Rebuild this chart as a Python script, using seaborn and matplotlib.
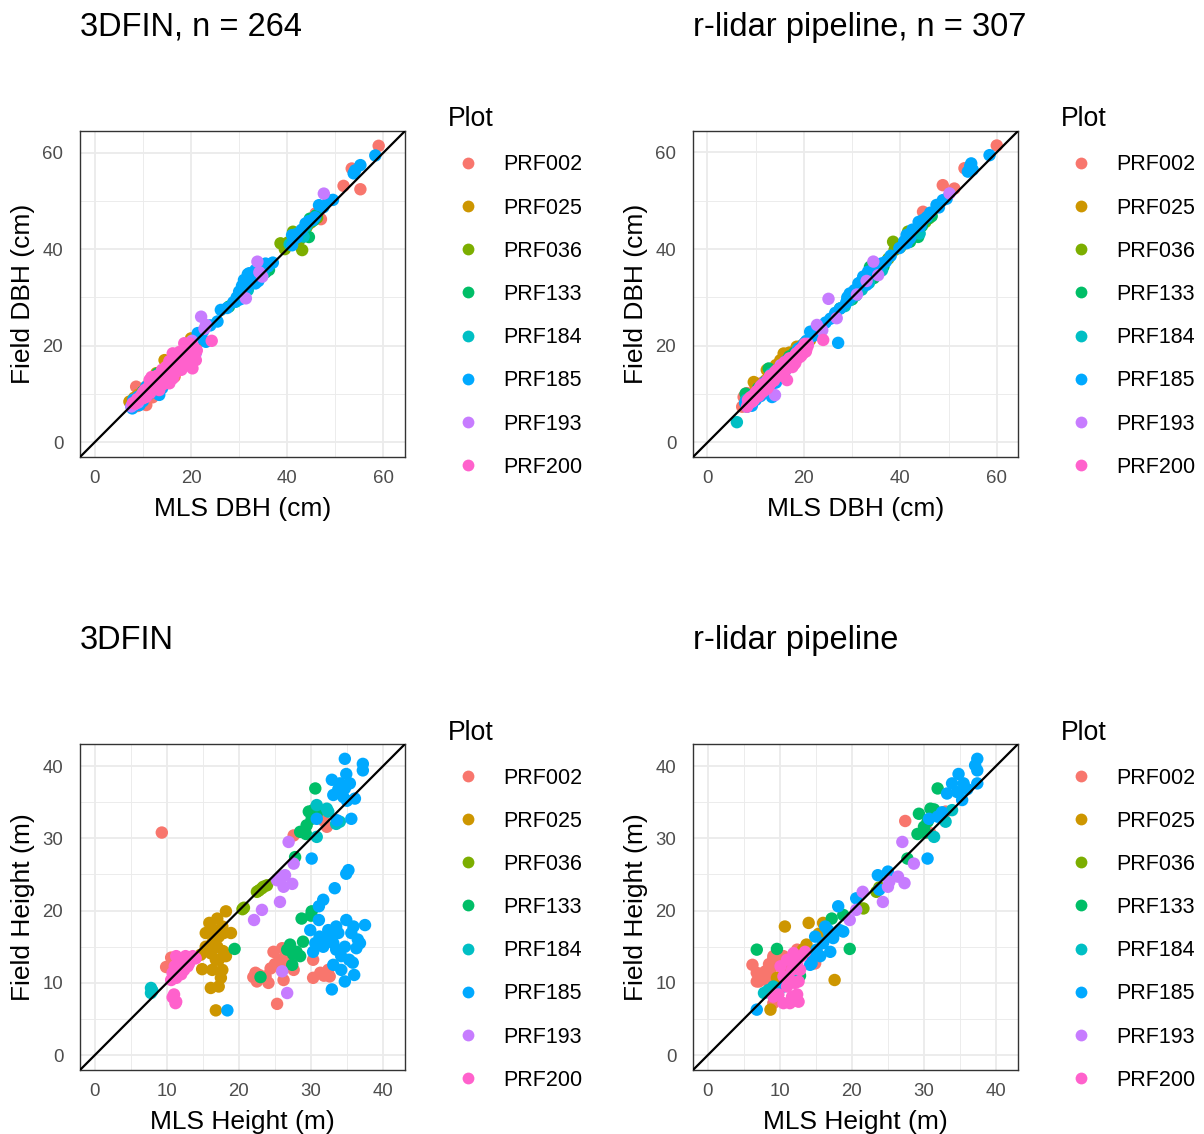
import matplotlib
matplotlib.use("Agg")
import matplotlib.pyplot as plt
from matplotlib.lines import Line2D
from matplotlib.ticker import MultipleLocator
import pandas as pd
import seaborn as sns

PLOTS = ["PRF002", "PRF025", "PRF036", "PRF133", "PRF184", "PRF185", "PRF193", "PRF200"]
COLORS = ["#F8766D", "#CD9600", "#7CAE00", "#00BE67", "#00BFC4", "#00A9FF", "#C77CFF", "#FF61CC"]

# ---------------- DBH, 3DFIN (MLS DBH, Field DBH) ----------------
DBH_3DFIN_PRF002 = [(59.0, 61.4), (53.4, 56.7), (51.7, 53.1), (55.2, 52.4), (45.9, 47.4), (47.0, 46.2), (44.6, 45.3),
                    (8.6, 11.5), (10.7, 7.7), (8.9, 7.5), (10.0, 9.4), (12.8, 12.2), (16.6, 13.6), (9.5, 8.6), (11.8, 10.8),
                    (14.2, 12.6), (7.8, 8.0), (13.0, 11.0), (18.0, 17.2), (15.4, 14.6), (12.0, 9.3), (11.2, 12.0), (9.8, 10.6),
                    (13.6, 13.9), (17.2, 15.8)]
DBH_3DFIN_PRF025 = [(7.2, 8.4), (14.5, 17.0), (12.8, 14.3), (20.0, 21.5), (10.7, 11.5), (16.2, 15.7), (18.6, 18.4), (9.0, 9.8),
                    (11.5, 12.8), (13.6, 13.5), (15.0, 15.9), (17.2, 17.6), (8.2, 9.2), (19.2, 19.5), (12.2, 13.2), (10.2, 10.1),
                    (16.8, 16.9), (14.0, 14.8), (21.2, 20.6), (13.2, 12.4)]
DBH_3DFIN_PRF036 = [(38.6, 41.2), (41.2, 43.6), (43.1, 39.8), (41.5, 42.2), (44.0, 44.5), (42.6, 42.0), (40.2, 41.4), (45.0, 45.6),
                    (39.5, 40.0), (43.6, 43.0), (46.2, 46.5), (42.0, 43.0)]
DBH_3DFIN_PRF133 = [(27.9, 28.1), (44.5, 42.5), (44.7, 46.3), (36.2, 35.7), (31.0, 32.2), (34.8, 36.3), (12.1, 12.9), (10.0, 10.5),
                    (45.5, 46.0), (29.5, 29.5), (32.5, 33.0), (15.5, 15.2), (8.8, 8.6), (33.6, 34.0), (30.5, 30.8), (14.0, 13.5),
                    (11.2, 11.8), (18.5, 18.9), (16.8, 17.5), (20.2, 20.0), (9.5, 9.0), (13.0, 14.2), (35.5, 35.2), (46.0, 47.0),
                    (22.0, 22.5)]
DBH_3DFIN_PRF184 = [(29.3, 29.1), (43.4, 42.6), (45.2, 46.0), (11.4, 10.1), (42.0, 43.2), (30.8, 30.6), (33.0, 33.7), (9.2, 9.0),
                    (13.2, 13.0), (40.5, 41.0), (35.0, 34.8), (31.8, 31.5), (12.4, 11.5), (10.3, 9.6), (8.0, 7.9), (14.8, 14.2),
                    (16.0, 16.3), (44.0, 44.8), (32.2, 32.6), (34.2, 35.0)]
DBH_3DFIN_PRF185 = [(58.3, 59.4), (54.1, 56.3), (55.2, 57.4), (53.8, 55.7), (48.6, 50.1), (46.6, 49.1), (45.2, 46.0), (43.8, 45.3),
                    (41.0, 42.9), (41.0, 40.8), (35.5, 37.0), (33.4, 35.7), (32.1, 35.0), (31.0, 33.6), (30.0, 31.2), (33.4, 32.9),
                    (26.2, 27.4), (21.4, 22.6), (23.1, 20.8), (13.4, 9.8), (9.3, 7.7), (7.6, 7.4), (10.7, 11.5), (32.8, 34.3),
                    (34.5, 34.7), (36.0, 36.4), (31.5, 32.0), (47.5, 48.7), (44.5, 45.8), (12.0, 11.2), (14.5, 13.6), (8.5, 8.2),
                    (11.0, 9.8), (16.0, 15.5), (18.5, 18.2), (20.5, 20.8), (22.5, 23.0), (29.5, 30.0), (31.8, 34.8), (32.5, 33.6),
                    (30.6, 32.4), (35.0, 36.0), (45.8, 46.6), (42.0, 42.4), (27.5, 27.8), (9.0, 9.4), (10.0, 8.5), (12.8, 12.0),
                    (15.2, 14.4), (17.0, 16.2), (19.5, 19.0), (13.8, 13.0), (11.6, 10.6), (8.0, 8.8), (7.8, 7.0), (14.0, 11.2),
                    (16.5, 17.0), (20.0, 19.8), (24.0, 24.2), (25.5, 25.0), (28.8, 29.0), (34.0, 33.4), (37.0, 37.2), (43.0, 44.0),
                    (49.5, 50.2), (12.5, 10.5), (10.4, 10.0), (18.0, 17.4), (21.8, 21.5), (30.2, 29.6)]
DBH_3DFIN_PRF193 = [(47.6, 51.5), (33.8, 37.4), (34.8, 34.3), (31.4, 29.8), (22.1, 26.0), (23.1, 24.3), (21.0, 18.4), (7.6, 7.4),
                    (12.5, 12.5), (10.0, 9.8), (16.5, 16.0), (19.0, 19.5), (8.2, 7.8), (34.2, 35.2), (14.0, 14.3), (11.2, 10.5),
                    (17.8, 18.0), (9.0, 8.2), (20.2, 21.0), (13.2, 12.0), (15.8, 15.2), (22.8, 23.5)]
DBH_3DFIN_PRF200 = [(19.7, 20.5), (19.0, 18.4), (17.6, 16.3), (19.7, 16.0), (16.2, 18.4), (14.8, 15.6), (16.6, 14.3), (15.5, 12.2),
                    (12.8, 12.9), (11.4, 12.9), (13.4, 10.8), (10.7, 9.4), (9.3, 8.8), (7.9, 8.1), (18.6, 20.5), (17.6, 18.7),
                    (14.5, 13.9), (21.0, 17.0), (20.3, 15.3), (18.0, 15.0), (15.0, 14.8), (13.0, 13.8), (12.0, 11.5), (11.0, 11.2),
                    (17.0, 17.5), (18.5, 17.8), (16.0, 16.5), (14.0, 15.0), (13.8, 12.5), (12.5, 11.0), (10.0, 10.3), (20.5, 19.8),
                    (19.3, 19.0), (16.8, 15.5), (15.5, 16.8), (14.2, 12.0), (9.8, 9.0), (8.8, 8.9), (11.8, 13.5), (24.3, 21.0),
                    (19.0, 17.0), (18.2, 16.4), (17.0, 14.8), (16.2, 13.2), (15.0, 13.4), (13.6, 11.6), (12.4, 12.0), (11.5, 10.2),
                    (10.4, 10.8), (9.6, 9.6), (8.4, 8.0), (20.0, 18.2), (19.5, 20.0), (18.8, 19.2), (17.4, 17.2), (16.4, 15.8),
                    (15.8, 14.2), (14.6, 14.8), (13.2, 13.0), (12.2, 12.6), (11.0, 10.0), (10.2, 9.2), (21.2, 19.0), (19.8, 17.6),
                    (17.8, 16.0), (16.8, 16.6), (15.2, 15.6), (14.0, 13.2), (12.8, 11.2), (18.4, 18.6)]

# ---------------- DBH, r-lidar pipeline ----------------
DBH_RLIDAR_PRF002 = [(60.0, 61.4), (53.3, 56.7), (48.8, 53.2), (51.2, 52.5), (44.7, 47.7), (7.5, 9.4), (7.2, 7.4), (46.0, 46.8),
                     (42.5, 43.0), (8.2, 10.2), (9.0, 8.6), (10.5, 10.2), (12.0, 11.5), (13.5, 13.0), (15.0, 14.2), (16.5, 16.0),
                     (11.0, 12.2), (9.8, 9.0), (14.0, 14.8), (18.0, 17.6), (12.8, 12.4), (17.2, 16.4), (8.5, 7.8), (10.0, 11.4),
                     (19.2, 19.0), (14.8, 13.2), (11.6, 10.6), (20.0, 20.2)]
DBH_RLIDAR_PRF025 = [(9.9, 12.2), (12.3, 15.0), (15.8, 18.4), (21.3, 21.2), (18.5, 19.8), (9.6, 12.5), (15.1, 17.0), (10.5, 10.8),
                     (11.5, 11.8), (13.0, 13.4), (14.5, 14.0), (16.5, 16.8), (17.5, 17.2), (19.5, 20.0), (8.8, 9.2), (12.0, 12.8),
                     (13.8, 15.2), (16.0, 15.6), (20.2, 20.6), (11.0, 10.2), (14.2, 16.0), (18.0, 18.2), (10.2, 11.2), (17.0, 18.6)]
DBH_RLIDAR_PRF036 = [(38.5, 41.5), (38.8, 39.8), (41.6, 43.6), (40.0, 40.4), (42.5, 42.8), (44.0, 44.3), (39.4, 40.8), (43.0, 43.8),
                     (45.2, 45.6), (41.0, 41.2), (37.5, 38.0), (46.0, 46.4)]
DBH_RLIDAR_PRF133 = [(12.7, 15.3), (7.9, 10.1), (43.7, 42.5), (45.7, 46.3), (32.3, 32.2), (27.5, 27.7), (33.7, 36.3), (43.3, 42.9),
                     (44.5, 44.8), (31.0, 31.4), (34.5, 34.0), (35.5, 36.0), (29.0, 29.3), (30.0, 29.6), (9.0, 9.6), (10.5, 11.2),
                     (11.8, 12.0), (13.5, 13.8), (15.0, 15.4), (16.5, 16.2), (18.0, 18.5), (14.0, 12.8), (17.0, 17.8), (19.5, 19.0),
                     (8.6, 8.0), (46.5, 46.8), (36.5, 36.4), (42.0, 41.5)]
DBH_RLIDAR_PRF184 = [(6.1, 4.2), (29.5, 29.4), (44.0, 43.2), (32.0, 31.6), (33.5, 33.0), (30.8, 30.4), (43.0, 43.2), (41.5, 42.0),
                     (9.0, 8.6), (10.8, 10.0), (12.5, 12.0), (14.0, 13.6), (15.5, 15.0), (8.0, 8.8), (11.2, 11.8), (35.0, 35.2),
                     (36.2, 35.6), (17.0, 16.5), (13.2, 14.2), (28.5, 28.2), (31.5, 32.6), (34.0, 34.6)]
DBH_RLIDAR_PRF185 = [(58.5, 59.4), (54.7, 57.7), (54.0, 56.0), (47.5, 49.1), (48.8, 50.1), (44.7, 46.0), (43.8, 45.6), (41.3, 42.9),
                     (41.3, 41.2), (36.1, 37.0), (33.3, 35.3), (32.3, 34.3), (31.3, 32.9), (29.5, 30.8), (27.5, 27.7), (21.3, 22.9),
                     (27.1, 20.6), (8.2, 7.4), (13.4, 9.4), (35.1, 35.7), (54.5, 57.2), (46.2, 47.5), (45.5, 46.6), (42.5, 44.0),
                     (40.8, 41.6), (34.5, 35.0), (32.8, 33.8), (31.8, 33.2), (30.5, 31.5), (30.0, 30.2), (28.8, 29.0), (26.5, 26.8),
                     (24.5, 24.8), (22.5, 23.5), (23.5, 24.0), (20.5, 21.0), (19.5, 19.8), (18.5, 18.6), (17.5, 17.4), (16.5, 16.6),
                     (15.5, 15.2), (14.5, 14.8), (13.5, 13.2), (12.5, 12.8), (11.5, 11.0), (10.5, 10.6), (9.5, 9.8), (8.8, 8.4),
                     (10.0, 8.8), (12.0, 10.4), (14.2, 12.4), (16.0, 14.6), (18.0, 16.8), (19.8, 18.8), (9.2, 7.6), (11.0, 9.6),
                     (13.0, 11.4), (15.0, 13.8), (17.0, 15.8), (20.0, 20.4), (37.0, 37.4), (35.8, 36.6), (33.0, 32.6), (31.0, 31.0),
                     (29.0, 30.0), (44.2, 44.8), (42.0, 42.2), (39.8, 40.2), (38.0, 38.6), (48.0, 48.6), (49.6, 50.4), (55.0, 56.4),
                     (25.5, 25.6), (7.8, 8.2), (8.6, 9.0), (11.8, 12.4), (13.8, 14.2), (16.2, 16.8), (18.8, 19.4), (21.8, 22.0)]
DBH_RLIDAR_PRF193 = [(50.2, 51.5), (34.4, 37.4), (35.4, 34.6), (25.1, 29.7), (26.8, 25.7), (22.7, 24.3), (19.9, 19.1), (14.0, 9.8),
                     (13.5, 13.0), (11.5, 11.2), (10.0, 9.4), (16.0, 15.2), (17.8, 17.0), (9.2, 8.4), (12.4, 12.8), (15.2, 16.0),
                     (20.8, 20.4), (18.6, 18.0), (23.8, 23.2), (33.0, 33.4), (31.0, 30.6), (8.4, 8.0), (14.6, 14.0)]
DBH_RLIDAR_PRF200 = [(24.0, 21.2), (19.9, 19.8), (19.2, 17.7), (17.8, 16.0), (15.8, 15.0), (14.4, 13.6), (13.0, 12.2), (11.0, 10.1),
                     (9.6, 8.8), (8.2, 7.4), (16.5, 12.9), (19.2, 19.1), (20.0, 18.6), (20.2, 20.4), (19.5, 18.0), (18.8, 18.6),
                     (18.5, 17.2), (18.0, 17.8), (17.5, 16.6), (17.0, 17.4), (16.8, 15.6), (16.2, 16.2), (15.6, 14.2), (15.2, 15.4),
                     (14.8, 14.6), (14.2, 14.2), (13.8, 12.8), (13.4, 13.4), (12.8, 12.6), (12.4, 11.6), (12.0, 12.0), (11.6, 11.4),
                     (11.2, 10.8), (10.8, 11.2), (10.4, 9.8), (10.0, 10.2), (9.6, 9.4), (9.2, 8.8), (8.8, 8.4), (8.4, 8.8),
                     (20.5, 19.2), (19.7, 19.4), (18.9, 18.0), (18.2, 16.4), (17.4, 17.0), (16.6, 16.4), (16.0, 14.8), (15.4, 15.8),
                     (14.6, 13.8), (14.0, 14.6), (13.2, 12.4), (12.6, 13.0), (11.8, 11.0), (11.4, 12.0), (10.6, 10.4), (9.8, 9.2),
                     (9.0, 9.4), (8.6, 8.0), (20.8, 20.0), (19.4, 19.2), (18.6, 17.4), (17.8, 17.6), (17.2, 16.0), (16.4, 15.2),
                     (15.8, 16.0), (15.0, 14.4), (14.4, 15.0), (13.6, 13.4), (12.8, 11.8), (12.2, 12.4), (11.6, 10.6), (10.8, 10.0),
                     (10.2, 10.6), (9.4, 8.6), (20.4, 18.8), (19.0, 18.8), (17.6, 15.6), (16.0, 16.6), (14.8, 14.0), (13.0, 13.8),
                     (12.4, 11.2), (11.0, 11.6), (9.8, 10.0), (8.8, 9.2), (18.4, 18.4), (16.8, 17.0), (15.2, 14.8), (13.8, 14.0),
                     (12.0, 11.0), (10.6, 9.6)]

# ---------------- Height, 3DFIN (MLS height, Field height) ----------------
HT_3DFIN_PRF002 = [(9.3, 30.8), (10.6, 13.5), (9.9, 12.2), (22.3, 11.4), (22.5, 10.2), (23.7, 10.9), (24.4, 12.0), (24.8, 14.3),
                   (25.7, 13.2), (26.0, 11.8), (24.1, 10.0), (25.3, 7.1), (22.8, 11.1), (26.0, 14.8), (26.4, 12.7), (27.6, 11.8),
                   (26.9, 13.7), (23.2, 10.7), (30.3, 13.2), (30.3, 10.7), (31.3, 11.4), (32.4, 11.8), (32.6, 10.9), (32.2, 31.6),
                   (31.7, 32.5), (27.6, 30.4), (22.0, 10.8), (25.0, 12.6), (26.2, 10.4), (31.8, 11.0)]
HT_3DFIN_PRF025 = [(18.2, 19.9), (17.0, 18.9), (15.9, 18.3), (15.4, 16.9), (16.6, 17.3), (17.7, 17.8), (17.2, 16.4), (16.3, 15.5),
                   (17.9, 16.9), (17.0, 15.0), (14.7, 13.9), (16.1, 14.1), (18.2, 13.7), (17.2, 13.2), (14.9, 11.9), (16.3, 11.8),
                   (17.7, 11.8), (17.5, 10.7), (16.1, 9.3), (17.2, 9.5), (16.8, 6.2), (18.9, 16.9), (16.8, 13.2), (15.4, 15.0),
                   (17.8, 14.4), (16.0, 17.0)]
HT_3DFIN_PRF036 = [(20.5, 20.2), (22.5, 22.6), (23.2, 23.1), (23.9, 23.5), (22.8, 22.8), (23.4, 23.3), (20.7, 20.4)]
HT_3DFIN_PRF133 = [(30.6, 36.9), (29.7, 33.7), (30.1, 32.7), (29.4, 31.8), (28.5, 30.9), (30.8, 33.4), (30.3, 33.9), (27.8, 27.4),
                   (19.4, 14.7), (23.0, 10.8), (28.7, 18.9), (30.1, 19.9), (27.1, 15.3), (28.0, 14.3), (28.9, 15.7), (27.4, 12.5),
                   (28.5, 13.7), (26.7, 14.6), (29.3, 30.6), (30.0, 19.3), (27.5, 14.0)]
HT_3DFIN_PRF184 = [(7.8, 9.3), (7.8, 8.6), (8.0, 8.9), (30.8, 34.6), (32.2, 34.1), (30.8, 30.2), (34.0, 32.3), (32.4, 33.7),
                   (33.5, 32.0), (31.6, 15.2)]
HT_3DFIN_PRF185 = [(34.7, 41.0), (37.2, 40.3), (37.2, 39.4), (34.9, 38.9), (32.9, 38.1), (34.0, 37.6), (35.4, 37.6), (34.7, 36.9),
                   (33.1, 36.0), (34.5, 35.7), (36.1, 35.5), (30.8, 32.7), (33.6, 32.5), (35.6, 32.7), (30.1, 27.2), (34.9, 25.1),
                   (35.2, 25.6), (33.3, 23.1), (31.7, 21.5), (31.1, 20.6), (37.5, 18.0), (34.9, 18.7), (29.9, 17.3), (31.1, 18.7),
                   (32.4, 17.3), (33.8, 16.9), (35.6, 16.9), (36.8, 15.5), (30.6, 15.5), (31.7, 15.0), (33.1, 15.5), (34.7, 15.0),
                   (36.3, 14.8), (30.3, 14.3), (34.2, 13.7), (35.3, 13.2), (33.1, 12.5), (34.2, 11.8), (36.0, 11.1), (34.7, 10.2),
                   (32.9, 9.1), (18.4, 6.2), (35.9, 17.8), (32.4, 16.2), (33.5, 17.8), (31.2, 16.4), (36.5, 16.0), (33.8, 36.8),
                   (35.0, 35.2), (33.5, 14.6), (35.8, 12.8)]
HT_3DFIN_PRF193 = [(26.9, 29.5), (27.6, 26.5), (26.0, 24.7), (25.3, 24.2), (26.2, 23.3), (27.4, 23.7), (25.7, 21.2), (23.2, 20.1),
                   (22.1, 18.7), (26.0, 11.6), (26.7, 8.6), (26.4, 24.9)]
HT_3DFIN_PRF200 = [(11.3, 13.7), (12.0, 13.2), (12.6, 13.7), (13.3, 13.2), (11.7, 12.3), (12.4, 11.8), (10.8, 11.4), (11.3, 10.7),
                   (14.0, 13.4), (13.1, 12.7), (12.2, 12.7), (11.1, 12.3), (12.0, 11.2), (10.6, 10.4), (11.0, 8.4), (11.3, 7.4),
                   (10.8, 8.0), (12.9, 12.3), (13.6, 13.7), (11.2, 7.2)]

# ---------------- Height, r-lidar pipeline ----------------
HT_RLIDAR_PRF002 = [(6.2, 12.5), (6.8, 10.2), (7.8, 11.4), (8.2, 10.4), (9.1, 13.7), (8.7, 11.8), (9.8, 12.7), (10.5, 13.7),
                    (9.6, 10.0), (9.1, 7.2), (12.4, 14.6), (14.6, 12.7), (27.4, 32.4), (30.9, 30.7), (33.0, 33.7), (6.8, 11.4),
                    (10.5, 11.8), (7.1, 10.2), (8.0, 11.6), (9.1, 13.4), (10.1, 12.3), (9.6, 14.1), (14.9, 12.7), (11.0, 12.6),
                    (7.5, 10.6), (8.5, 12.6)]
HT_RLIDAR_PRF025 = [(10.7, 17.8), (14.0, 18.3), (17.6, 10.4), (8.7, 6.3), (13.7, 15.3), (16.0, 18.3), (9.6, 10.7), (13.2, 14.6),
                    (15.4, 16.8)]
HT_RLIDAR_PRF036 = [(23.4, 22.6), (21.6, 20.3), (23.8, 23.2)]
HT_RLIDAR_PRF133 = [(6.8, 14.6), (9.6, 14.7), (17.2, 18.9), (19.7, 14.7), (31.9, 36.9), (29.3, 33.4), (30.9, 34.1), (31.4, 34.0),
                    (29.1, 30.6), (30.0, 31.6), (30.5, 32.3), (27.7, 27.2), (18.8, 19.4), (12.8, 11.0), (30.2, 30.8)]
HT_RLIDAR_PRF184 = [(7.8, 8.6), (9.1, 9.5), (31.4, 30.2), (33.0, 32.3), (33.9, 33.9), (32.4, 33.2), (12.2, 11.2), (8.4, 9.0)]
HT_RLIDAR_PRF185 = [(6.8, 6.3), (37.4, 41.0), (37.1, 40.1), (37.4, 39.4), (34.8, 38.9), (33.9, 37.6), (35.5, 37.6), (33.2, 36.2),
                    (34.6, 36.4), (35.3, 35.3), (37.4, 37.6), (30.7, 32.7), (31.9, 33.0), (30.5, 27.2), (23.6, 24.9), (25.0, 25.4),
                    (20.6, 21.7), (18.1, 20.6), (18.3, 17.3), (16.9, 16.6), (17.0, 14.3), (16.0, 15.5), (14.9, 16.4), (15.1, 14.6),
                    (14.4, 12.7), (16.3, 17.8), (17.4, 16.2), (18.8, 17.1), (15.6, 13.7), (14.2, 12.5), (23.8, 22.9), (10.5, 9.5),
                    (14.2, 13.9), (16.7, 17.3), (32.5, 33.6), (36.0, 36.8)]
HT_RLIDAR_PRF193 = [(27.0, 29.5), (28.6, 26.5), (26.4, 24.7), (27.3, 23.8), (25.0, 23.3), (24.3, 21.2), (21.5, 22.6), (19.7, 18.7),
                    (20.6, 20.1), (25.2, 24.0)]
HT_RLIDAR_PRF200 = [(10.1, 12.3), (11.0, 13.2), (11.9, 14.1), (13.0, 13.7), (11.7, 11.8), (10.5, 10.9), (12.4, 12.7), (11.4, 10.4),
                    (12.6, 10.2), (9.8, 8.4), (10.5, 7.2), (11.7, 8.1), (12.6, 7.4), (11.4, 7.2), (12.4, 8.4), (11.0, 9.5),
                    (13.5, 14.3), (12.8, 11.8), (12.1, 10.0), (9.1, 8.1)]

PANELS = [
    dict(groups=[DBH_3DFIN_PRF002, DBH_3DFIN_PRF025, DBH_3DFIN_PRF036, DBH_3DFIN_PRF133,
                 DBH_3DFIN_PRF184, DBH_3DFIN_PRF185, DBH_3DFIN_PRF193, DBH_3DFIN_PRF200],
         title="3DFIN, n = 264", xlabel="MLS DBH (cm)", ylabel="Field DBH (cm)",
         lim=(-3.07, 64.47), major=20, minor=10, box=(80, 131, 405, 457)),
    dict(groups=[DBH_RLIDAR_PRF002, DBH_RLIDAR_PRF025, DBH_RLIDAR_PRF036, DBH_RLIDAR_PRF133,
                 DBH_RLIDAR_PRF184, DBH_RLIDAR_PRF185, DBH_RLIDAR_PRF193, DBH_RLIDAR_PRF200],
         title="r-lidar pipeline, n = 307", xlabel="MLS DBH (cm)", ylabel="Field DBH (cm)",
         lim=(-3.0, 64.4), major=20, minor=10, box=(693, 131, 1018, 457)),
    dict(groups=[HT_3DFIN_PRF002, HT_3DFIN_PRF025, HT_3DFIN_PRF036, HT_3DFIN_PRF133,
                 HT_3DFIN_PRF184, HT_3DFIN_PRF185, HT_3DFIN_PRF193, HT_3DFIN_PRF200],
         title="3DFIN", xlabel="MLS Height (m)", ylabel="Field Height (m)",
         lim=(-2.05, 43.05), major=10, minor=5, box=(80, 744, 405, 1070)),
    dict(groups=[HT_RLIDAR_PRF002, HT_RLIDAR_PRF025, HT_RLIDAR_PRF036, HT_RLIDAR_PRF133,
                 HT_RLIDAR_PRF184, HT_RLIDAR_PRF185, HT_RLIDAR_PRF193, HT_RLIDAR_PRF200],
         title="r-lidar pipeline", xlabel="MLS Height (m)", ylabel="Field Height (m)",
         lim=(-2.05, 43.05), major=10, minor=5, box=(693, 744, 1018, 1070)),
]


def to_frame(groups):
    rows = []
    for plot, pts in zip(PLOTS, groups):
        for mls, field in pts:
            rows.append((plot, mls, field))
    return pd.DataFrame(rows, columns=["Plot", "MLS", "Field"])


sns.set_style("white")
plt.rcParams["font.family"] = ["Liberation Sans", "DejaVu Sans"]
plt.rcParams["text.color"] = "black"

W, H = 1204, 1134
fig = plt.figure(figsize=(W / 100, H / 100), dpi=100)
GRID = "#EBEBEB"
DARK = "#333333"
TICK_TXT = "#4D4D4D"


def fx(px):
    return px / W


def fy(py):
    return 1 - py / H


for p in PANELS:
    left, top, right, bottom = p["box"]
    ax = fig.add_axes([fx(left), fy(bottom), (right - left) / W, (bottom - top) / H])
    df = to_frame(p["groups"])
    sns.scatterplot(data=df, x="MLS", y="Field", hue="Plot", hue_order=PLOTS, palette=COLORS,
                    s=80, linewidth=0, alpha=1, legend=False, ax=ax, zorder=3)
    ax.axline((0, 0), slope=1, color="black", lw=1.6, zorder=4)
    ax.set_xlim(p["lim"])
    ax.set_ylim(p["lim"])
    for axis in (ax.xaxis, ax.yaxis):
        axis.set_major_locator(MultipleLocator(p["major"]))
        axis.set_minor_locator(MultipleLocator(p["minor"]))
    ax.grid(which="major", color=GRID, lw=1.3)
    ax.grid(which="minor", color=GRID, lw=0.65)
    ax.set_axisbelow(True)
    ax.tick_params(which="major", length=5, width=0.9, color=DARK, labelsize=13.4, labelcolor=TICK_TXT)
    ax.tick_params(which="minor", length=0)
    ax.tick_params(axis="x", pad=4.5)
    ax.tick_params(axis="y", pad=7)
    for sp in ax.spines.values():
        sp.set_color(DARK)
        sp.set_linewidth(1.0)
    ax.set_xlabel("")
    ax.set_ylabel("")

    # titles and axis titles
    fig.text(fx(left), fy(top - 95), p["title"], fontsize=23.5, va="baseline", ha="left", color="black")
    fig.text(fx((left + right) / 2), fy(bottom + 59), p["xlabel"], fontsize=19, va="baseline", ha="center",
             color="black")
    fig.text(fx(left - 57), fy((top + bottom) / 2), p["ylabel"], fontsize=19, rotation=90,
             va="center", ha="center", color="black")

    # legend
    fig.text(fx(right + 43), fy(top - 4.5), "Plot", fontsize=19.2, va="baseline", ha="left", color="black")
    handles = [Line2D([], [], ls="", marker="o", markersize=8.5, markerfacecolor=c, markeredgewidth=0)
               for c in COLORS]
    leg = fig.legend(handles, PLOTS, loc="upper left", bbox_to_anchor=(fx(right + 52.25), fy(top + 23.5)),
                     frameon=False, borderpad=0, borderaxespad=0, handlelength=1.0, handletextpad=1.13,
                     labelspacing=1.03, fontsize=15.5)
    for t in leg.get_texts():
        t.set_color("black")

fig.savefig("out.png", dpi=100)
